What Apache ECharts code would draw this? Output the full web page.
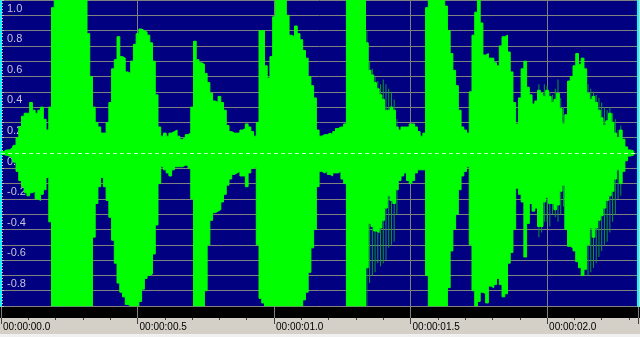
<!DOCTYPE html>
<html>
<head>
<meta charset="utf-8">
<script src="https://cdn.jsdelivr.net/npm/echarts@6/dist/echarts.min.js"></script>
<style>
html,body{margin:0;padding:0;background:#d4d0c8;}
#c{width:640px;height:337px;}
</style>
</head>
<body>
<div id="c"></div>
<script>
// sample spacing in seconds
const STEP = 0.01;
// waveform envelope (peak maximum per 10 ms)
const peakMax = [
0.01,0.01,0.02,0.02,0.03,0.05,0.10,0.17,0.24,0.26,
0.26,0.33,0.28,0.26,0.28,0.30,0.22,0.15,0.30,0.95,
1.0,1.0,1.0,1.0,1.0,1.0,1.0,1.0,1.0,1.0,
1.0,1.0,0.78,0.50,0.30,0.20,0.17,0.13,0.13,0.20,
0.33,0.55,0.61,0.76,0.63,0.62,0.53,0.52,0.60,0.71,
0.78,0.81,0.80,0.79,0.77,0.72,0.60,0.38,0.17,0.11,
0.13,0.11,0.13,0.14,0.15,0.11,0.09,0.10,0.12,0.13,
0.30,0.73,0.61,0.59,0.58,0.52,0.46,0.39,0.34,0.33,
0.37,0.33,0.28,0.18,0.14,0.13,0.13,0.13,0.15,0.16,
0.19,0.17,0.14,0.11,0.20,0.80,0.80,0.57,0.49,0.63,
0.89,1.0,1.0,1.0,1.0,0.90,0.77,0.76,0.83,0.78,
0.74,0.67,0.62,0.50,0.44,0.36,0.15,0.11,0.12,0.12,
0.13,0.12,0.14,0.16,0.17,0.17,0.19,1.0,1.0,1.0,
1.0,1.0,1.0,1.0,0.72,0.54,0.51,0.46,0.42,0.38,
0.35,0.28,0.28,0.30,0.28,0.17,0.15,0.17,0.17,0.17,
0.19,0.19,0.17,0.14,0.11,0.13,0.95,1.0,1.0,1.0,
1.0,1.0,1.0,0.96,0.80,0.65,0.54,0.44,0.28,0.17,
0.15,0.13,0.40,0.77,0.92,1.0,0.85,0.64,0.65,0.62,
0.62,0.59,0.57,0.70,0.76,0.77,0.66,0.53,0.33,0.19,
0.36,0.55,0.60,0.43,0.38,0.32,0.34,0.41,0.39,0.37,
0.41,0.37,0.33,0.35,0.39,0.29,0.19,0.25,0.47,0.50,
0.57,0.65,0.58,0.62,0.55,0.39,0.35,0.37,0.33,0.28,
0.23,0.18,0.21,0.26,0.20,0.13,0.10,0.15,0.09,0.04,
0.02,0.015,0.01
];
// waveform envelope (peak minimum per 10 ms)
const peakMin = [
-0.01,-0.01,-0.015,-0.02,-0.03,-0.06,-0.12,-0.18,-0.22,-0.26,
-0.28,-0.26,-0.25,-0.30,-0.31,-0.27,-0.24,-0.16,-0.45,-1.0,
-1.0,-1.0,-1.0,-1.0,-1.0,-1.0,-1.0,-1.0,-1.0,-1.0,
-1.0,-1.0,-1.0,-1.0,-0.55,-0.33,-0.22,-0.16,-0.22,-0.31,
-0.42,-0.57,-0.72,-0.85,-0.91,-0.94,-0.99,-1.0,-1.0,-1.0,
-1.0,-0.97,-0.89,-0.82,-0.80,-0.79,-0.66,-0.47,-0.20,-0.09,
-0.11,-0.13,-0.15,-0.11,-0.09,-0.09,-0.09,-0.08,-0.08,-0.10,
-0.30,-1.0,-1.0,-1.0,-1.0,-0.90,-0.60,-0.44,-0.39,-0.38,
-0.37,-0.32,-0.27,-0.21,-0.17,-0.14,-0.13,-0.12,-0.15,-0.15,
-0.22,-0.13,-0.10,-0.09,-0.60,-0.95,-0.98,-1.0,-1.0,-1.0,
-1.0,-1.0,-1.0,-1.0,-1.0,-1.0,-1.0,-1.0,-1.0,-1.0,
-1.0,-0.96,-0.91,-0.78,-0.62,-0.50,-0.22,-0.12,-0.13,-0.12,
-0.14,-0.15,-0.13,-0.13,-0.12,-0.17,-0.20,-1.0,-1.0,-1.0,
-1.0,-1.0,-1.0,-1.0,-0.75,-0.46,-0.48,-0.51,-0.52,-0.49,
-0.44,-0.36,-0.28,-0.31,-0.33,-0.24,-0.18,-0.15,-0.13,-0.18,
-0.20,-0.18,-0.13,-0.11,-0.11,-0.11,-0.80,-1.0,-1.0,-1.0,
-1.0,-1.0,-1.0,-1.0,-0.88,-0.64,-0.50,-0.40,-0.24,-0.15,
-0.12,-0.09,-0.60,-0.90,-1.0,-0.97,-0.91,-0.92,-0.98,-0.87,
-0.88,-0.86,-0.82,-0.86,-0.94,-0.92,-0.72,-0.65,-0.50,-0.23,
-0.27,-0.32,-0.68,-0.46,-0.33,-0.38,-0.36,-0.48,-0.48,-0.32,
-0.29,-0.33,-0.33,-0.37,-0.34,-0.25,-0.21,-0.50,-0.61,-0.62,
-0.64,-0.71,-0.75,-0.80,-0.76,-0.60,-0.49,-0.55,-0.49,-0.44,
-0.41,-0.36,-0.31,-0.28,-0.25,-0.17,-0.11,-0.20,-0.12,-0.05,
-0.02,-0.015,-0.01
];
// isolated darker sample lines that reach beyond the bright envelope
const spikeTimes = [
1.33,1.34,1.35,1.36,1.37,1.38,1.39,1.40,1.41,1.42,1.43,1.44,1.45,
1.97,1.98,1.99,2.00,2.01,2.02,2.03,2.04,2.05,2.06,
2.15,2.16,2.17,2.18,2.19,2.20,2.21,2.22,2.23,2.24,2.25,2.26,2.27
];
const spikeHigh = [
1.0,0.80,0.60,0.55,0.50,0.47,0.45,0.48,0.45,0.42,0.40,0.35,0.22,
0.45,0.40,0.45,0.44,0.40,0.38,0.42,0.48,0.36,0.30,
0.45,0.42,0.40,0.38,0.36,0.33,0.30,0.28,0.30,0.26,0.22,0.15,0.18
];
const spikeLow = [
-1.0,-1.0,-0.85,-0.80,-0.78,-0.72,-0.74,-0.72,-0.70,-0.62,-0.60,-0.58,-0.40,
-0.55,-0.52,-0.45,-0.45,-0.48,-0.40,-0.42,-0.45,-0.40,-0.35,
-0.80,-0.78,-0.75,-0.72,-0.68,-0.64,-0.60,-0.58,-0.52,-0.45,-0.40,-0.30,-0.28
];
// axis settings
const T_MAX = 2.333;
const Y_MIN = -1, Y_MAX = 1, Y_STEP = 0.1;
const TIME_TICK = 0.5;

function fmtTime(v){
  const tenths = Math.round(v*10);
  const s = Math.floor(tenths/10), d = tenths % 10;
  return '00:00:' + String(s).padStart(2,'0') + '.' + d;
}

const maxData = peakMax.map((v,i)=>[i*STEP, v]);
const minData = peakMin.map((v,i)=>[i*STEP, v]);
const spikeHiData = spikeHigh.map((v,i)=>[spikeTimes[i], v]);
const spikeLoData = spikeLow.map((v,i)=>[spikeTimes[i], v]);

const GREEN = '#00ff00';
const DARK = '#0a9a30';

const chart = echarts.init(document.getElementById('c'), null, {renderer:'canvas'});
chart.setOption({
  animation:false,
  backgroundColor:'#d4d0c8',
  textStyle:{fontFamily:'Liberation Sans, Arial, sans-serif'},
  graphic:[
    {type:'rect', left:0, top:307, shape:{width:640, height:11}, style:{fill:'#000000'}, z:0},
    {type:'rect', left:0, top:334, shape:{width:640, height:3}, style:{fill:'#f0f0f0'}, z:0}
  ],
  grid:[
    {left:1, right:2, top:0, height:306, show:true, backgroundColor:'#000080', borderWidth:0},
    {left:1, right:2, top:307, height:11, show:false}
  ],
  xAxis:[
    {type:'value', gridIndex:0, min:0, max:T_MAX, interval:TIME_TICK,
     axisLine:{show:false}, axisTick:{show:false}, axisLabel:{show:false},
     splitLine:{show:true, lineStyle:{color:'#808080', width:1}}},
    {type:'value', gridIndex:1, min:0, max:T_MAX, interval:TIME_TICK, position:'bottom',
     axisLine:{show:false},
     axisTick:{show:true, length:6, lineStyle:{color:'#404040'}},
     minorTick:{show:true, splitNumber:5, length:2, lineStyle:{color:'#404040'}},
     splitLine:{show:true, lineStyle:{color:'#808080'}},
     axisLabel:{show:true, showMaxLabel:false, margin:4, align:'left', padding:[0,0,0,2],
       color:'#000000', fontSize:10, fontFamily:'Liberation Sans', formatter:fmtTime}}
  ],
  yAxis:[
    {type:'value', gridIndex:0, min:Y_MIN, max:Y_MAX, interval:Y_STEP,
     axisLine:{show:true, onZero:false, lineStyle:{color:'#00ffff', width:2}},
     axisTick:{show:true, inside:true, length:3, lineStyle:{color:'#c0c0c0'}},
     minorTick:{show:true, splitNumber:5, length:2, lineStyle:{color:'#c0c0c0'}},
     splitLine:{show:true, lineStyle:{color:'#808080', width:1}},
     axisLabel:{show:true, inside:true, margin:6, verticalAlign:'top', padding:[3,0,0,0],
       color:'#c4c4d8', fontSize:11, fontFamily:'Liberation Sans',
       showMinLabel:true, showMaxLabel:true,
       formatter:function(v){
         const k = Math.round(v*10);
         if (k % 2 !== 0 || k <= -10) return '';
         return (k/10).toFixed(1);
       }}},
    {type:'value', gridIndex:0, min:Y_MIN, max:Y_MAX, position:'right',
     axisLine:{show:true, onZero:false, lineStyle:{color:'#00ffff', width:2}},
     axisTick:{show:false}, axisLabel:{show:false}, splitLine:{show:false}},
    {type:'value', gridIndex:1, min:0, max:1, show:false}
  ],
  series:[
    {type:'bar', xAxisIndex:0, yAxisIndex:0, data:spikeHiData, barWidth:1, silent:true,
     itemStyle:{color:DARK}, z:1},
    {type:'bar', xAxisIndex:0, yAxisIndex:0, data:spikeLoData, barWidth:1, barGap:'-100%', silent:true,
     itemStyle:{color:DARK}, z:1},
    {type:'line', xAxisIndex:0, yAxisIndex:0, data:maxData, symbol:'none', silent:true, step:'middle',
     lineStyle:{color:GREEN, width:1}, areaStyle:{color:GREEN, opacity:1, origin:0}, z:2},
    {type:'line', xAxisIndex:0, yAxisIndex:0, data:minData, symbol:'none', silent:true, step:'middle',
     lineStyle:{color:GREEN, width:1}, areaStyle:{color:GREEN, opacity:1, origin:0}, z:3,
     markLine:{silent:true, symbol:'none', label:{show:false},
       lineStyle:{color:'#c8ffc8', type:[4,3], width:1},
       data:[{yAxis:0}]}}
  ]
});
</script>
</body>
</html>
